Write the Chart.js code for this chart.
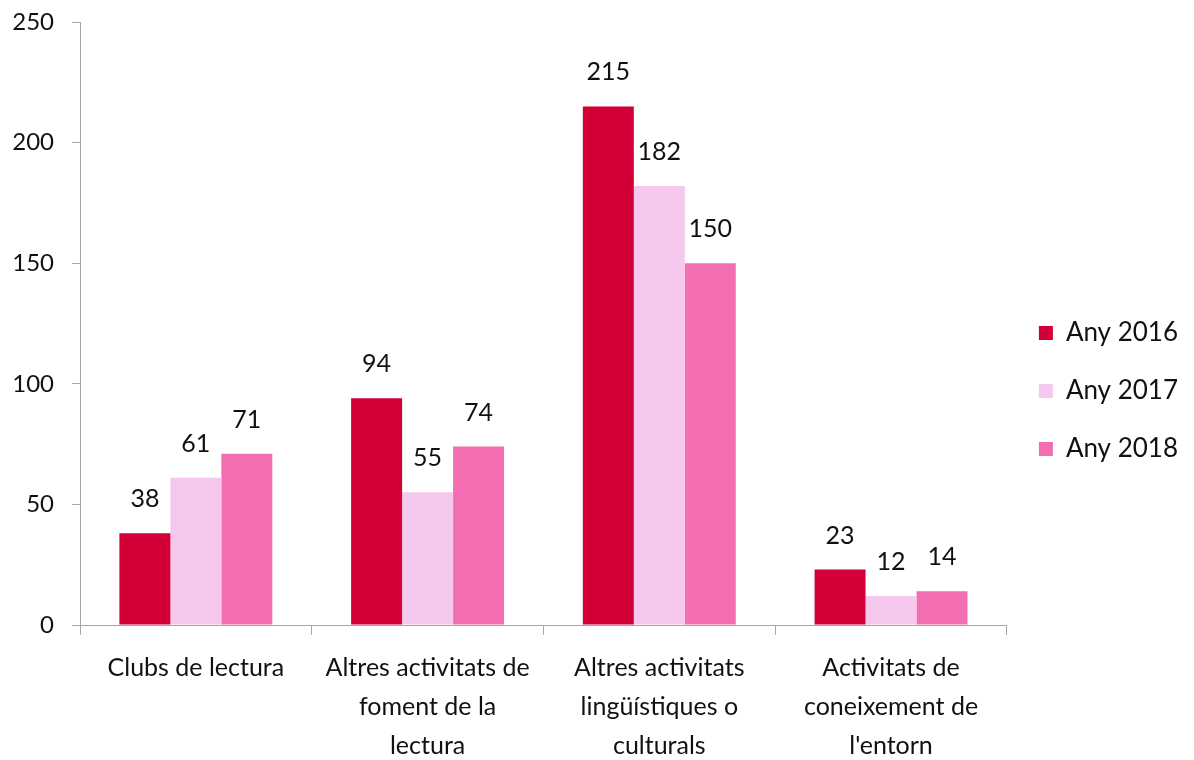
<!DOCTYPE html>
<html>
<head>
<meta charset="utf-8">
<script src="https://cdn.jsdelivr.net/npm/chart.js@4"></script>
<style>
  html, body { margin: 0; padding: 0; background: #fff; }
  #wrap { width: 1194px; height: 760px; }
</style>
</head>
<body>
<div id="wrap"><canvas id="chart" width="1194" height="760"></canvas></div>
<script>
// Categories and values
const categories = [
    ['Clubs de lectura'],
    ['Altres activitats de', 'foment de la', 'lectura'],
    ['Altres activitats', 'lingüístiques o', 'culturals'],
    ['Activitats de', 'coneixement de', "l'entorn"]
];
const years = ['Any 2016', 'Any 2017', 'Any 2018'];
const values2016 = [38, 94, 215, 23];
const values2017 = [61, 55, 182, 12];
const values2018 = [71, 74, 150, 14];
const yTicks = [0, 50, 100, 150, 200, 250];

const colors = ['#D20036', '#F6C8EE', '#F26EB0'];
const fontFamily = 'Lato, "Open Sans", sans-serif';

// numbers above the bars
const barLabels = {
    id: 'barLabels',
    afterDatasetsDraw(chart) {
        const ctx = chart.ctx;
        ctx.save();
        ctx.fillStyle = '#111';
        ctx.font = '25px ' + fontFamily;
        ctx.textAlign = 'center';
        ctx.textBaseline = 'middle';
        chart.data.datasets.forEach((ds, i) => {
            chart.getDatasetMeta(i).data.forEach((bar, j) => {
                ctx.fillText(ds.data[j], bar.x, bar.y - 34);
            });
        });
        ctx.restore();
    }
};

new Chart(document.getElementById('chart'), {
    type: 'bar',
    data: {
        labels: categories,
        datasets: [
            { label: years[0], data: values2016, backgroundColor: colors[0] },
            { label: years[1], data: values2017, backgroundColor: colors[1] },
            { label: years[2], data: values2018, backgroundColor: colors[2] }
        ]
    },
    options: {
        responsive: false,
        animation: false,
        layout: { padding: { top: 22, right: 6, left: 0, bottom: 0 } },
        categoryPercentage: 0.66,
        barPercentage: 1.0,
        plugins: {
            tooltip: { enabled: false },
            legend: {
                position: 'right',
                labels: {
                    boxWidth: 14,
                    boxHeight: 14,
                    padding: 32,
                    color: '#111',
                    font: { family: fontFamily, size: 26 }
                }
            }
        },
        scales: {
            x: {
                grid: { offset: true, drawOnChartArea: false, tickLength: 10, color: '#a6a6a6' },
                border: { color: '#a6a6a6' },
                ticks: {
                    color: '#111',
                    padding: 14,
                    maxRotation: 0,
                    font: { family: fontFamily, size: 25, lineHeight: 1.55 }
                },
                afterFit(scale) { scale.height = 135; }
            },
            y: {
                min: 0,
                max: 250,
                afterBuildTicks(scale) { scale.ticks = yTicks.map(v => ({ value: v })); },
                grid: { drawOnChartArea: false, tickLength: 8, color: '#a6a6a6' },
                border: { color: '#a6a6a6' },
                ticks: {
                    color: '#111',
                    padding: 18,
                    font: { family: fontFamily, size: 24 }
                },
                afterFit(scale) { scale.width = 80; scale.paddingTop = 0; }
            }
        }
    },
    plugins: [barLabels]
});
</script>
</body>
</html>
